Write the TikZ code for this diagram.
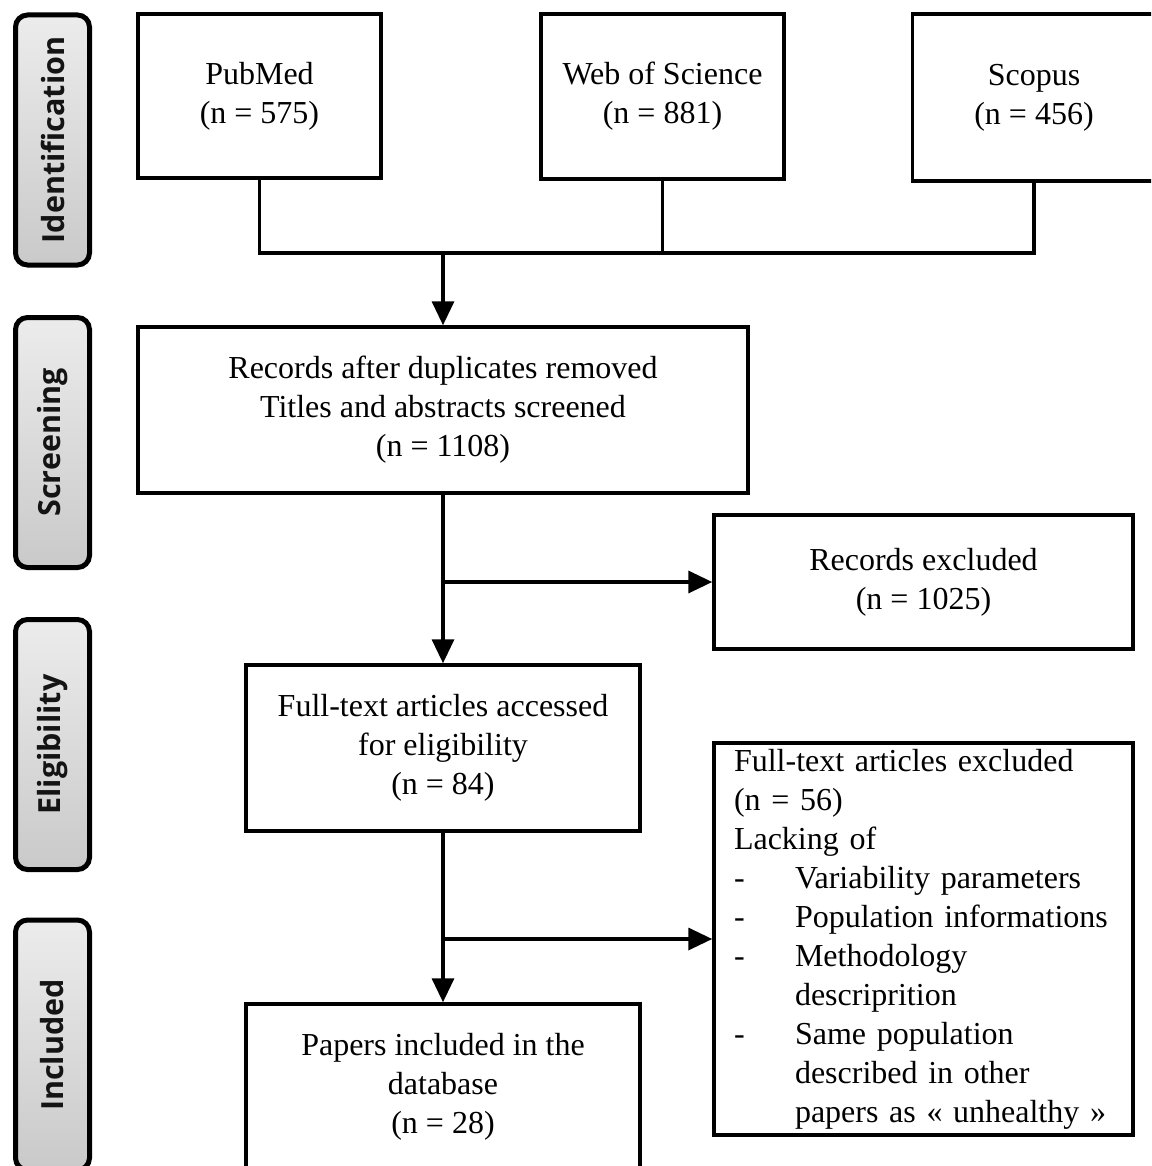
\documentclass[tikz,border=0pt]{standalone}
\usepackage{fontspec}
\setmainfont{Liberation Serif}
\newfontfamily\labfont{Open Sans}
\usetikzlibrary{arrows.meta}
\begin{document}
\begin{tikzpicture}[x=1pt,y=-1pt,
  box/.style={draw, line width=3.5pt, align=center, inner sep=0pt,
    font=\fontsize{32}{39}\selectfont},
  phase/.style={draw, line width=5pt, rounded corners=12pt, rotate=90,
    top color=gray!15, bottom color=gray!42,
    minimum width=250pt, minimum height=74pt, inner sep=0pt,
    font=\labfont\bfseries\fontsize{30.5}{34}\selectfont, text=black!92},
  conn/.style={line width=3.5pt},
  arr/.style={conn, -{Triangle[length=24pt,width=22pt]}}]
\useasboundingbox (0,0) rectangle (1151,1166);
\clip (0,0) rectangle (1151,1166);

% phase labels
\node[phase] (idn) at (52.5,140) {Identification};
\node[phase] (scr) at (52.5,442.5) {Screening};
\node[phase] (eli) at (52.5,744.5) {Eligibility};
\node[phase] (inc) at (52.5,1045) {Included};

% boxes
\node[box, minimum width=243pt, minimum height=164pt] (pub) at (259.5,96) {PubMed\\(n = 575)};
\node[box, minimum width=243pt, minimum height=165pt] (wos) at (662.5,96.5) {Web of Science\\(n = 881)};
\node[box, minimum width=243pt, minimum height=167pt] (sco) at (1034,97.5) {Scopus\\(n = 456)};
\node[box, minimum width=610pt, minimum height=166pt] (rec) at (443,410)
  {Records after duplicates removed\\Titles and abstracts screened\\(n = 1108)};
\node[box, minimum width=419pt, minimum height=134pt] (rex) at (923.5,582)
  {Records excluded\\(n = 1025)};
\node[box, minimum width=394pt, minimum height=166pt] (ft) at (443,748)
  {Full-text articles accessed\\for eligibility\\(n = 84)};
\node[box, minimum width=394pt, minimum height=166pt] (pap) at (443,1087)
  {Papers included in the\\database\\(n = 28)};
\node[box, align=left, text width=379pt, minimum width=419pt, minimum height=392pt] (exc) at (923.5,939)
  {Full-text articles excluded\\
   (n = 56)\\
   Lacking of\\
   \makebox[61pt][l]{-}Variability parameters\\
   \makebox[61pt][l]{-}Population informations\\
   \makebox[61pt][l]{-}Methodology\\
   \hspace*{61pt}descriprition\\
   \makebox[61pt][l]{-}Same population\\
   \hspace*{61pt}described in other\\
   \hspace*{61pt}papers as « unhealthy »};

% connectors
\coordinate (bus) at (443,253);
\draw[conn] (pub.south) -- (pub.south |- bus) -- (sco.south |- bus) -- (sco.south);
\draw[conn] (wos.south) -- (wos.south |- bus);
\draw[arr] (bus) -- (rec.north);
\draw[arr] (rec.south) -- (ft.north);
\draw[arr] (rec.south |- rex.west) -- (rex.west);
\draw[arr] (ft.south) -- (pap.north);
\draw[arr] (ft.south |- exc.west) -- (exc.west);
\end{tikzpicture}
\end{document}
